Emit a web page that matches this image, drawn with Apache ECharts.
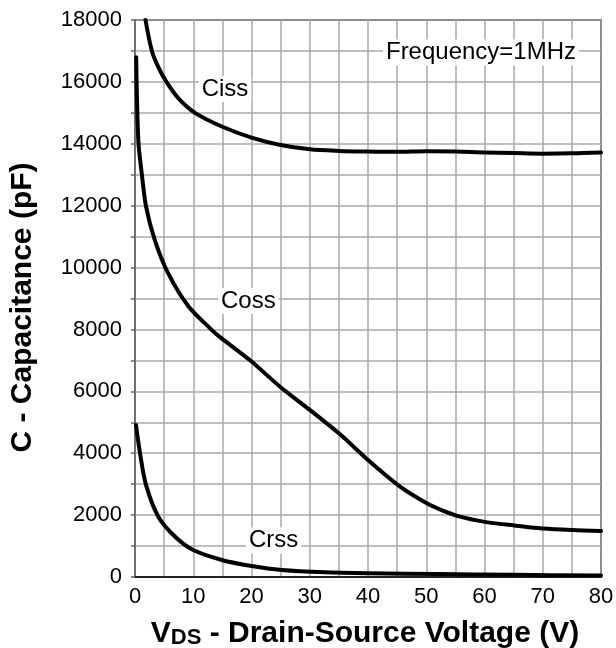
<!DOCTYPE html>
<html>
<head>
<meta charset="utf-8">
<script src="https://cdn.jsdelivr.net/npm/echarts@6/dist/echarts.min.js"></script>
<style>
  html, body { margin: 0; padding: 0; background: #fff; }
  #chart { width: 616px; height: 648px; }
</style>
</head>
<body>
<div id="chart"></div>
<script>
// Capacitance vs. drain-source voltage, [V_DS (V), C (pF)]
const ciss = [
  [1.8, 18000], [2.9, 17000], [4, 16480], [5.4, 16000], [7.5, 15460],
  [10.3, 15000], [15, 14550], [20, 14200], [25, 13960], [30, 13820],
  [35, 13770], [40, 13750], [45, 13740], [50, 13760], [55, 13750],
  [60, 13720], [65, 13700], [70, 13680], [75, 13690], [80, 13720]
];
const coss = [
  [0.2, 16800], [0.57, 14100], [1.15, 13050], [1.9, 11970], [3.4, 10890],
  [5.7, 9810], [9.2, 8740], [13.2, 7980], [14.6, 7750], [19.7, 7010],
  [24.9, 6150], [30, 5400], [35.2, 4610], [40.3, 3730], [45.5, 2920],
  [50.1, 2380], [52.4, 2180], [55.8, 1950], [59.8, 1790], [64.9, 1670],
  [70, 1570], [75, 1520], [80, 1490]
];
const crss = [
  [0.17, 4910], [0.86, 4000], [1.9, 2970], [4, 1950], [6.9, 1300],
  [10, 870], [14.9, 550], [20, 355], [25.2, 226], [32.6, 150],
  [40, 120], [52, 97], [65, 70], [80, 45]
];

// Curve names and where their captions sit, in data units
const seriesNames = ['Ciss', 'Coss', 'Crss'];
const captionAt = [[15.45, 15770], [19.45, 8920], [23.8, 1180]];
const noteText = 'Frequency=1MHz';
const noteAt = [59.4, 16950];

// Labelled ticks
const xTickLabels = [0, 10, 20, 30, 40, 50, 60, 70, 80];
const yTickLabels = [0, 2000, 4000, 6000, 8000, 10000, 12000, 14000, 16000, 18000];

const FONT = '"Liberation Sans", Arial, sans-serif';

const captionLabel = {
  show: true,
  position: 'inside',
  color: '#000',
  fontFamily: FONT,
  fontSize: 24,
  backgroundColor: '#fff',
  padding: [2, 3, 0, 3]
};

function curve(name, data, extraMarks) {
  const idx = seriesNames.indexOf(name);
  const marks = [{ coord: captionAt[idx], value: name }].concat(extraMarks || []);
  return {
    name: name,
    type: 'line',
    data: data,
    smooth: 0.3,
    showSymbol: false,
    lineStyle: { color: '#000', width: 4, join: 'round', cap: 'round' },
    z: 3,
    markPoint: {
      symbol: 'rect',
      symbolSize: 0,
      silent: true,
      label: Object.assign({ formatter: p => p.value }, captionLabel),
      data: marks
    }
  };
}

const chart = echarts.init(document.getElementById('chart'), null, { renderer: 'canvas' });

chart.setOption({
  animation: false,
  backgroundColor: '#fff',
  grid: {
    left: 135, right: 15, top: 20, bottom: 71,
    containLabel: false,
    outerBoundsMode: 'none',
    show: true, borderColor: '#000', borderWidth: 1.5, backgroundColor: 'transparent'
  },
  xAxis: {
    type: 'value',
    min: 0, max: 80, interval: 5,
    axisLine: { show: true, onZero: false, lineStyle: { color: '#000', width: 1.5 } },
    axisTick: { show: false },
    splitLine: { show: true, lineStyle: { color: '#a8a8a8', width: 1.5 } },
    axisLabel: {
      margin: 9,
      color: '#000',
      fontFamily: FONT,
      fontSize: 22,
      formatter: v => (xTickLabels.includes(v) ? String(v) : '')
    },
    name: '{v|V}{s|DS}{v| - Drain-Source Voltage (V)}',
    nameLocation: 'middle',
    nameGap: 41,
    nameTextStyle: {
      padding: [0, 6, 0, 0],
      rich: {
        v: { fontFamily: FONT, fontWeight: 'bold', fontSize: 30, color: '#000', verticalAlign: 'bottom', lineHeight: 31 },
        s: { fontFamily: FONT, fontWeight: 'bold', fontSize: 22, color: '#000', verticalAlign: 'bottom', lineHeight: 27 }
      }
    }
  },
  yAxis: {
    type: 'value',
    min: 0, max: 18000, interval: 1000,
    axisLine: { show: true, onZero: false, lineStyle: { color: '#666', width: 1.5 } },
    axisTick: { show: true, length: 4, lineStyle: { color: '#666', width: 1.5 } },
    splitLine: { show: true, lineStyle: { color: '#a8a8a8', width: 1.5 } },
    axisLabel: {
      margin: 13,
      color: '#000',
      fontFamily: FONT,
      fontSize: 22,
      formatter: v => (yTickLabels.includes(v) ? String(v) : '')
    },
    name: 'C - Capacitance (pF)',
    nameLocation: 'middle',
    nameGap: 97,
    nameTextStyle: { fontFamily: FONT, fontWeight: 'bold', fontSize: 30, color: '#000', padding: [0, 18, 0, 0] }
  },
  series: [
    curve('Ciss', ciss, [{ coord: noteAt, value: noteText }]),
    curve('Coss', coss),
    curve('Crss', crss)
  ]
});
</script>
</body>
</html>
